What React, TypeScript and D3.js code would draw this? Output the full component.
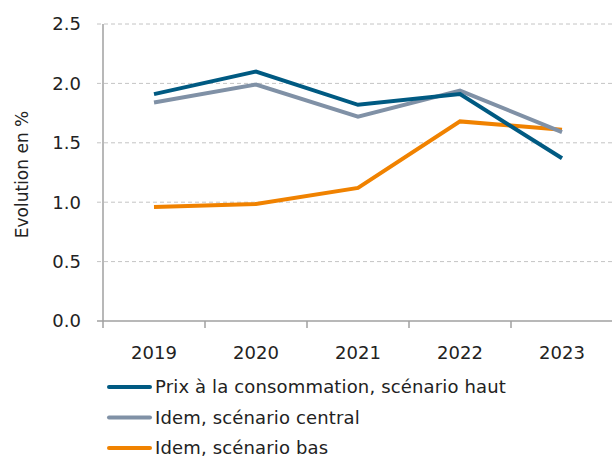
import * as d3 from "d3";

const years = ["2019", "2020", "2021", "2022", "2023"];
const haut = [1.91, 2.1, 1.82, 1.91, 1.37];
const central = [1.84, 1.99, 1.72, 1.94, 1.59];
const bas = [0.96, 0.985, 1.12, 1.68, 1.61];
const yTicks = [0, 0.5, 1, 1.5, 2, 2.5];
const seriesNames = [
  "Prix à la consommation, scénario haut",
  "Idem, scénario central",
  "Idem, scénario bas",
];
const colors = ["#005a82", "#8091a6", "#f08200"];

const WIDTH = 612;
const HEIGHT = 459;
const MARGIN = { top: 24, right: -1, bottom: 138, left: 103 };
const FONT = "'DejaVu Sans', sans-serif";

export default function App() {
  const boundsWidth = WIDTH - MARGIN.left - MARGIN.right;
  const boundsHeight = HEIGHT - MARGIN.top - MARGIN.bottom;

  const xScale = d3.scaleBand().domain(years).range([0, boundsWidth]);
  const yScale = d3.scaleLinear().domain([0, 2.5]).range([boundsHeight, 0]);

  const line = d3
    .line<number>()
    .x((_, i) => (xScale(years[i]) ?? 0) + xScale.bandwidth() / 2)
    .y((d) => yScale(d));

  // bas drawn first so blue and grey sit on top, like the reference
  const series = [haut, central, bas];
  const drawOrder = [2, 1, 0];

  return (
    <svg
      width={WIDTH}
      height={HEIGHT}
      style={{ position: "absolute", left: 0, top: 0, background: "#fff" }}
      fontFamily={FONT}
    >
      <g transform={`translate(${MARGIN.left},${MARGIN.top})`}>
        {/* dashed gridlines */}
        {yTicks
          .filter((t) => t > 0)
          .map((t) => (
            <line
              key={t}
              x1={-6}
              x2={boundsWidth}
              y1={yScale(t)}
              y2={yScale(t)}
              stroke="#c4c4c4"
              strokeDasharray="4,3"
            />
          ))}
        {/* y axis */}
        <line x1={0} x2={0} y1={0} y2={boundsHeight} stroke="#a0a0a0" strokeWidth={1.5} />
        <line x1={-6} x2={0} y1={boundsHeight} y2={boundsHeight} stroke="#a0a0a0" strokeWidth={1.5} />
        {yTicks.map((t) => (
          <text
            key={t}
            x={-22}
            y={yScale(t)}
            dy="0.36em"
            textAnchor="end"
            fontSize={18}
            fill="#222"
          >
            {t.toFixed(1)}
          </text>
        ))}
        {/* x axis */}
        <line x1={0} x2={boundsWidth} y1={boundsHeight} y2={boundsHeight} stroke="#a0a0a0" strokeWidth={1.5} />
        {years.map((y) => (
          <line
            key={y}
            x1={xScale(y) ?? 0}
            x2={xScale(y) ?? 0}
            y1={boundsHeight}
            y2={boundsHeight + 7}
            stroke="#a0a0a0"
            strokeWidth={1.5}
          />
        ))}
        {years.map((y) => (
          <text
            key={y}
            x={(xScale(y) ?? 0) + xScale.bandwidth() / 2}
            y={boundsHeight + 38}
            textAnchor="middle"
            fontSize={18}
            fill="#222"
          >
            {y}
          </text>
        ))}
        {/* lines */}
        {drawOrder.map((i) => (
          <path
            key={i}
            d={line(series[i]) ?? ""}
            fill="none"
            stroke={colors[i]}
            strokeWidth={4}
            strokeLinejoin="miter"
          />
        ))}
      </g>
      {/* y axis title */}
      <text
        transform={`translate(28,${MARGIN.top + boundsHeight / 2 + 2}) rotate(-90)`}
        textAnchor="middle"
        fontSize={17}
        fill="#222"
      >
        Evolution en %
      </text>
      {/* legend */}
      {seriesNames.map((name, i) => (
        <g key={name} transform={`translate(107,${387 + i * 30.5})`}>
          <line x1={2} x2={43} y1={0} y2={0} stroke={colors[i]} strokeWidth={4} strokeLinecap="round" />
          <text x={48} y={0} dy="0.36em" fontSize={18} letterSpacing={0.15} fill="#222">
            {name}
          </text>
        </g>
      ))}
    </svg>
  );
}
